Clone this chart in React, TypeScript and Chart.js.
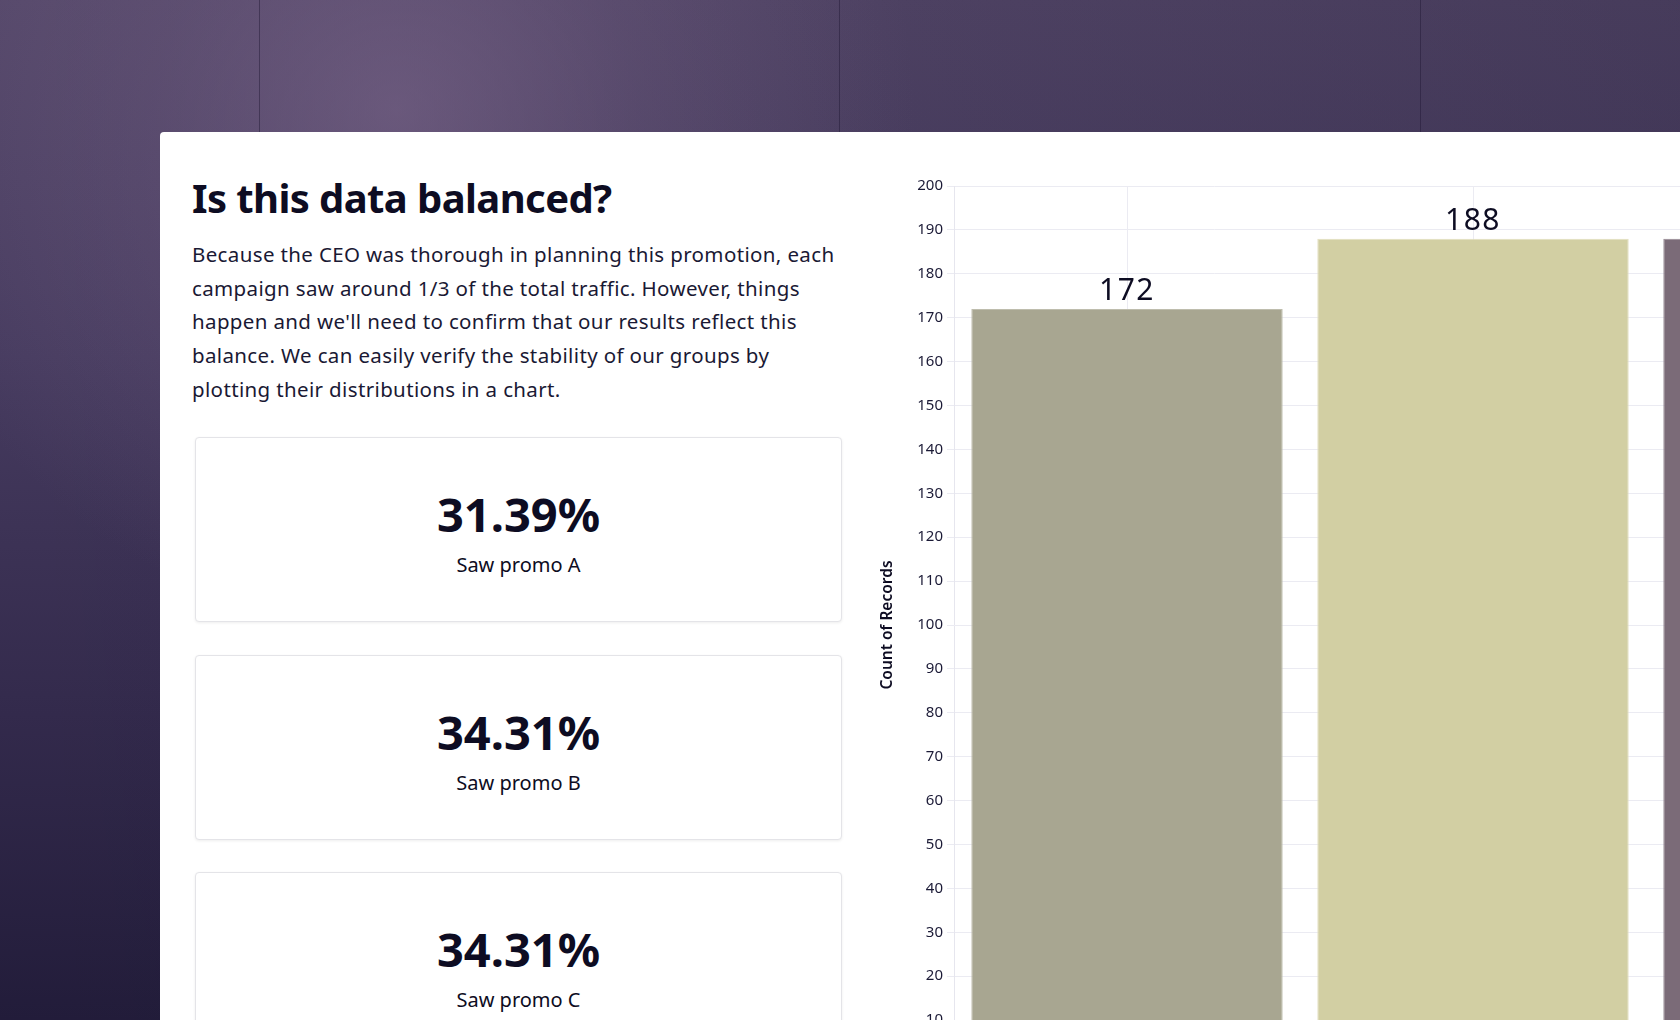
import React, { useEffect, useRef } from "react";
import { Chart, registerables } from "chart.js";

Chart.register(...registerables);

// ---- data ----
const categories = ["Promo A", "Promo B", "Promo C"];
const recordCounts = [172, 188, 188];
const barColors = ["#a8a691", "#d2cfa3", "#7b6b78"];
const barBorderColors = ["#bebdad", "#e2dfbe", "#958893"];
const yMin = 0;
const yMax = 200;
const yStep = 10;
const yAxisTitle = "Count of Records";
const statValues = ["31.39%", "34.31%", "34.31%"];
const statLabels = ["Saw promo A", "Saw promo B", "Saw promo C"];
const headline = "Is this data balanced?";
const paragraphLines = [
  "Because the CEO was thorough in planning this promotion, each",
  "campaign saw around 1/3 of the total traffic. However, things",
  "happen and we'll need to confirm that our results reflect this",
  "balance. We can easily verify the stability of our groups by",
  "plotting their distributions in a chart.",
];

const FONT = "'Noto Sans', 'Open Sans', sans-serif";
const INK = "#0d0c22";

const valueLabels = {
  id: "valueLabels",
  afterDatasetsDraw(chart: any) {
    const ctx = chart.ctx;
    const meta = chart.getDatasetMeta(0);
    const data = chart.data.datasets[0].data;
    ctx.save();
    ctx.font = `400 30px ${FONT}`;
    try {
      (ctx as any).letterSpacing = "1.5px";
    } catch (e) {}
    ctx.fillStyle = INK;
    ctx.textAlign = "center";
    ctx.textBaseline = "alphabetic";
    meta.data.forEach((bar: any, i: number) => {
      ctx.fillText(String(data[i]), bar.x, bar.y - 9);
    });
    ctx.restore();
  },
};

function BarChart() {
  const ref = useRef<HTMLCanvasElement | null>(null);
  useEffect(() => {
    if (!ref.current) return;
    const chart = new Chart(ref.current, {
      type: "bar",
      data: {
        labels: categories,
        datasets: [
          {
            label: yAxisTitle,
            data: recordCounts,
            backgroundColor: barColors,
            borderColor: barBorderColors,
            borderWidth: 1,
            barPercentage: 0.9,
            categoryPercentage: 1.0,
          },
        ],
      },
      options: {
        animation: false,
        responsive: true,
        maintainAspectRatio: false,
        layout: { padding: { top: 54, left: 0, right: 0, bottom: 0 } },
        plugins: {
          legend: { display: false },
          tooltip: { enabled: false },
        },
        scales: {
          x: {
            grid: { offset: false, color: "#ebebf2", drawTicks: false },
            border: { display: false },
            ticks: { color: INK, font: { family: FONT, size: 14 } },
            afterFit: (s: any) => {
              s.height = 40;
            },
          },
          y: {
            min: yMin,
            max: yMax,
            ticks: {
              stepSize: yStep,
              color: "#1b1a36",
              padding: 4,
              font: { family: FONT, size: 15 },
            },
            grid: { color: "#ebebf2", tickLength: 7, tickColor: "#ebebf2" },
            border: { display: true, color: "#e6e6ee" },
            title: {
              display: true,
              text: yAxisTitle,
              color: INK,
              padding: { top: 17, bottom: 0 },
              font: { family: FONT, size: 15.5, weight: "600" as any },
            },
            afterFit: (s: any) => {
              s.width = 93;
            },
          },
        },
      },
      plugins: [valueLabels],
    });
    return () => chart.destroy();
  }, []);
  return (
    <div style={{ position: "absolute", left: 861, top: 132, width: 1131, height: 972 }}>
      <canvas ref={ref} />
    </div>
  );
}

export default function App() {
  const boxTops = [437, 655, 872];
  return (
    <div
      style={{
        position: "fixed",
        left: 0,
        top: 0,
        width: 1680,
        height: 1020,
        overflow: "hidden",
        fontFamily: FONT,
        background:
          "radial-gradient(circle at 396px 110px, rgba(125,104,140,0.6) 0px, rgba(125,104,140,0.25) 240px, rgba(125,104,140,0) 520px), linear-gradient(to right, rgba(0,0,0,0) 0%, rgba(10,8,30,0.18) 100%), linear-gradient(to bottom, #544769 0%, #463b5f 35%, #332a4c 70%, #221c3a 100%)",
      }}
    >
      {[259, 839, 1420].map((x) => (
        <div
          key={x}
          style={{ position: "absolute", left: x, top: 0, width: 1, height: 132, background: "rgba(30,22,50,0.45)" }}
        />
      ))}
      <div
        style={{
          position: "absolute",
          left: 160,
          top: 132,
          width: 1600,
          height: 1000,
          background: "#ffffff",
          borderRadius: 4,
        }}
      />
      <div
        style={{
          position: "absolute",
          left: 192,
          top: 170,
          fontSize: 40,
          fontWeight: 700,
          letterSpacing: -0.6,
          color: INK,
          lineHeight: "56px",
          whiteSpace: "nowrap",
        }}
      >
        {headline}
      </div>
      <div
        style={{
          position: "absolute",
          left: 192,
          top: 238,
          fontSize: 20.5,
          letterSpacing: 0.36,
          lineHeight: "33.7px",
          color: "#1a1934",
          whiteSpace: "nowrap",
        }}
      >
        {paragraphLines.map((l, i) => (
          <div key={i}>{l}</div>
        ))}
      </div>
      {statValues.map((v, i) => (
        <div
          key={i}
          style={{
            position: "absolute",
            left: 195,
            top: boxTops[i],
            width: 647,
            height: 185,
            boxSizing: "border-box",
            border: "1px solid #e4e4e8",
            borderRadius: 4,
            boxShadow: "0 1px 3px rgba(0,0,0,0.07)",
            background: "#fff",
            textAlign: "center",
            color: INK,
          }}
        >
          <div style={{ position: "absolute", left: 0, right: 0, top: 48, fontSize: 47, fontWeight: 700, lineHeight: "56px" }}>
            {v}
          </div>
          <div style={{ position: "absolute", left: 0, right: 0, top: 112, fontSize: 20, lineHeight: "30px" }}>
            {statLabels[i]}
          </div>
        </div>
      ))}
      <BarChart />
    </div>
  );
}
